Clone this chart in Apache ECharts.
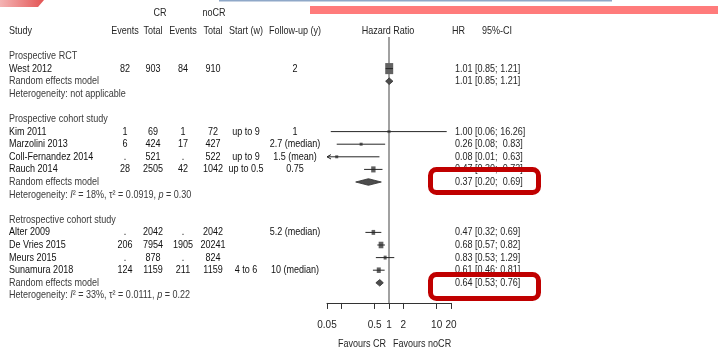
<!DOCTYPE html>
<html><head><meta charset="utf-8">
<script src="https://cdn.jsdelivr.net/npm/echarts@6/dist/echarts.min.js"></script>
<style>html,body{margin:0;padding:0;background:#fff}#c{width:718px;height:349px}</style>
</head><body><div id="c"></div>
<script>
// ---------------- DATA ----------------
const groupNames = ['Prospective RCT', 'Prospective cohort study', 'Retrospective cohort study'];
const studies = ['West 2012', 'Kim 2011', 'Marzolini 2013', 'Coll-Fernandez 2014', 'Rauch 2014',
                 'Alter 2009', 'De Vries 2015', 'Meurs 2015', 'Sunamura 2018'];
const studyGroup = [0, 1, 1, 1, 1, 2, 2, 2, 2];
const crEvents   = ['82', '1', '6', '.', '28', '.', '206', '.', '124'];
const crTotal    = ['903', '69', '424', '521', '2505', '2042', '7954', '878', '1159'];
const nocrEvents = ['84', '1', '17', '.', '42', '.', '1905', '.', '211'];
const nocrTotal  = ['910', '72', '427', '522', '1042', '2042', '20241', '824', '1159'];
const startW     = ['', 'up to 9', '', 'up to 9', 'up to 0.5', '', '', '', '4 to 6'];
const followUp   = ['2', '1', '2.7 (median)', '1.5 (mean)', '0.75', '5.2 (median)', '', '', '10 (median)'];
const hr   = [1.01, 1.00, 0.26, 0.08, 0.47, 0.47, 0.68, 0.83, 0.61];
const hrLo = [0.85, 0.06, 0.08, 0.01, 0.30, 0.32, 0.57, 0.53, 0.46];
const hrHi = [1.21, 16.26, 0.83, 0.63, 0.73, 0.69, 0.82, 1.29, 0.81];
const weight = [40, 1.3, 3, 2, 12, 8, 14, 5, 10];   // estimated relative weights
const reHr   = [1.01, 0.37, 0.64];
const reLo   = [0.85, 0.20, 0.53];
const reHi   = [1.21, 0.69, 0.76];
const hetI2   = [null, '18%', '33%'];
const hetTau2 = [null, '0.0919', '0.0111'];
const hetP    = [null, '0.30', '0.22'];
const xTicks      = [0.05, 0.1, 0.5, 1, 2, 10, 20];
const xTickLabels = [0.05, 0.5, 1, 2, 10, 20];
const xMin = 0.05, xMax = 20;

// ---------------- LAYOUT / STYLE ----------------
const W = 718, H = 349;
const ROW_H = 12.6, ROW0_Y = 56;
const K_MIN = -1.5, K_MAX = 19.6;
const FOREST_LEFT = 327, FOREST_W = 124;
const FAMILY = '"Liberation Sans", Arial, sans-serif';
const FS = 11;
const NARROW = 0.82;                       // horizontal squeeze of the original figure
const FONT = FS + 'px ' + FAMILY;
const DARK = '#111111', MID = '#262626', LIGHT = '#3a3a3a';
const COL = {study: 9, crEv: 125, crTot: 153, ncEv: 183, ncTot: 213, start: 246, fu: 295, hr: 455,
             crHead: 160, ncHead: 214, hrHead: 452, ciHead: 482, forestHead: 388};
const L = Math.log10;

// rows
const rows = [];
let r = 0;
groupNames.forEach((g, gi) => {
  rows.push({kind: 'group', row: r++, g: gi});
  studies.forEach((s, i) => { if (studyGroup[i] === gi) rows.push({kind: 'study', row: r++, i}); });
  rows.push({kind: 're', row: r++, g: gi});
  rows.push({kind: 'het', row: r++, g: gi});
  r++;
});

function groupWidth(g) {
  let m = reHi[g].toFixed(2).length;
  studies.forEach((s, i) => { if (studyGroup[i] === g) m = Math.max(m, hrHi[i].toFixed(2).length); });
  return m;
}
function ciText(h, l, u, w) {
  const us = u.toFixed(2);
  return h.toFixed(2) + ' [' + l.toFixed(2) + '; ' + ' '.repeat(w - us.length) + us + ']';
}

const items = [];
function add(x, row, text, align, color, rich) {
  items.push({x, row, text, align: align || 'left', color: color || DARK, rich});
}
const headK = -2, topK = (13 - ROW0_Y) / ROW_H, favK = (344 - ROW0_Y) / ROW_H;
add(COL.crHead, topK, 'CR', 'center', MID);
add(COL.ncHead, topK, 'noCR', 'center', MID);
add(COL.study, headK, 'Study', 'left', MID);
add(COL.crEv, headK, 'Events', 'center', MID);
add(COL.crTot, headK, 'Total', 'center', MID);
add(COL.ncEv, headK, 'Events', 'center', MID);
add(COL.ncTot, headK, 'Total', 'center', MID);
add(COL.start, headK, 'Start (w)', 'center', MID);
add(COL.fu, headK, 'Follow-up (y)', 'center', MID);
add(COL.forestHead, headK, 'Hazard Ratio', 'center', MID);
add(COL.hrHead, headK, 'HR', 'left', MID);
add(COL.ciHead, headK, '95%-CI', 'left', MID);

rows.forEach(rw => {
  if (rw.kind === 'group') add(COL.study, rw.row, groupNames[rw.g], 'left', LIGHT);
  else if (rw.kind === 'study') {
    const i = rw.i;
    add(COL.study, rw.row, studies[i], 'left', DARK);
    add(COL.crEv, rw.row, crEvents[i], 'center');
    add(COL.crTot, rw.row, crTotal[i], 'center');
    add(COL.ncEv, rw.row, nocrEvents[i], 'center');
    add(COL.ncTot, rw.row, nocrTotal[i], 'center');
    if (startW[i]) add(COL.start, rw.row, startW[i], 'center');
    if (followUp[i]) add(COL.fu, rw.row, followUp[i], 'center');
    add(COL.hr, rw.row, ciText(hr[i], hrLo[i], hrHi[i], groupWidth(studyGroup[i])), 'left', MID);
  } else if (rw.kind === 're') {
    add(COL.study, rw.row, 'Random effects model', 'left', LIGHT);
    add(COL.hr, rw.row, ciText(reHr[rw.g], reLo[rw.g], reHi[rw.g], groupWidth(rw.g)), 'left', MID);
  } else if (rw.kind === 'het') {
    const g = rw.g;
    if (hetI2[g] === null) add(COL.study, rw.row, 'Heterogeneity: not applicable', 'left', LIGHT);
    else add(COL.study, rw.row,
      'Heterogeneity: {i|I}\u00B2 = ' + hetI2[g] + ', \u03C4\u00B2 = ' + hetTau2[g] + ', {i|p} = ' + hetP[g],
      'left', LIGHT, {i: {font: 'italic ' + FONT, fill: LIGHT}});
  }
});
add(386, favK, 'Favours CR', 'right', MID);
add(393, favK, 'Favours noCR', 'left', MID);

const studyData = studies.map((s, i) => {
  const rw = rows.find(x => x.kind === 'study' && x.i === i);
  return [L(hr[i]), rw.row, L(hrLo[i]), L(hrHi[i]), weight[i]];
});
const reData = groupNames.map((g, gi) => {
  const rw = rows.find(x => x.kind === 're' && x.g === gi);
  return [L(reHr[gi]), rw.row, L(reLo[gi]), L(reHi[gi])];
});

const chart = echarts.init(document.getElementById('c'), null, {renderer: 'canvas'});
const option = {
  animation: false,
  backgroundColor: '#ffffff',
  textStyle: {fontFamily: FAMILY},
  grid: [
    {left: FOREST_LEFT, top: ROW0_Y + ROW_H * K_MIN, width: FOREST_W, height: ROW_H * (K_MAX - K_MIN),
     containLabel: false, outerBoundsMode: 'none'},
    {left: 0, top: 0, width: W, height: H, containLabel: false, outerBoundsMode: 'none'}
  ],
  xAxis: [
    {gridIndex: 0, type: 'value', min: L(xMin), max: L(xMax), position: 'bottom',
     axisLine: {show: true, onZero: false, lineStyle: {color: '#333', width: 1}},
     axisTick: {show: true, length: 6, customValues: xTicks.map(L), lineStyle: {color: '#333', width: 1}},
     axisLabel: {show: true, customValues: xTickLabels.map(L), margin: 17, color: MID,
                 fontFamily: FAMILY, fontSize: 10,
                 formatter: v => String(Number(Math.pow(10, v).toPrecision(2)))},
     splitLine: {show: false}},
    {gridIndex: 1, type: 'value', min: 0, max: W, show: false}
  ],
  yAxis: [
    {gridIndex: 0, type: 'value', min: K_MIN, max: K_MAX, inverse: true, show: false},
    {gridIndex: 1, type: 'value', min: -ROW0_Y / ROW_H, max: (H - ROW0_Y) / ROW_H, inverse: true, show: false}
  ],
  series: [
    {
      type: 'custom', name: 'studies', xAxisIndex: 0, yAxisIndex: 0, z: 4, silent: true,
      data: studyData,
      renderItem: (params, api) => {
        const x = api.value(0), k = api.value(1), l = api.value(2), u = api.value(3), w = api.value(4);
        const lc = Math.max(l, L(xMin)), uc = Math.min(u, L(xMax));
        const pL = api.coord([lc, k]), pU = api.coord([uc, k]), pC = api.coord([x, k]);
        const h = Math.max(3, 1.75 * Math.sqrt(w)), wd = Math.max(3, h * 0.72);
        const ch = [
          {type: 'rect', shape: {x: pC[0] - wd / 2, y: pC[1] - h / 2, width: wd, height: h},
           style: {fill: '#626262'}},
          {type: 'line', shape: {x1: pL[0], y1: pL[1], x2: pU[0], y2: pU[1]},
           style: {stroke: '#262626', lineWidth: 1}}
        ];
        if (l < L(xMin)) ch.push({type: 'polyline',
          shape: {points: [[pL[0] + 4, pL[1] - 2.2], [pL[0], pL[1]], [pL[0] + 4, pL[1] + 2.2]]},
          style: {stroke: '#262626', fill: null, lineWidth: 1}});
        if (u > L(xMax)) ch.push({type: 'polyline',
          shape: {points: [[pU[0] - 4, pU[1] - 2.2], [pU[0], pU[1]], [pU[0] - 4, pU[1] + 2.2]]},
          style: {stroke: '#262626', fill: null, lineWidth: 1}});
        return {type: 'group', children: ch};
      }
    },
    {
      type: 'custom', name: 'random effects', xAxisIndex: 0, yAxisIndex: 0, z: 4, silent: true,
      data: reData,
      renderItem: (params, api) => {
        const x = api.value(0), k = api.value(1), l = api.value(2), u = api.value(3);
        const pL = api.coord([l, k]), pU = api.coord([u, k]), pC = api.coord([x, k]);
        const hh = 3.3;
        return {type: 'polygon',
          shape: {points: [pL, [pC[0], pC[1] - hh], pU, [pC[0], pC[1] + hh]]},
          style: {fill: '#4d4d4d', stroke: '#2e2e2e', lineWidth: 0.8}};
      },
      markLine: {
        silent: true, symbol: 'none', z: 1, animation: false,
        label: {show: false},
        lineStyle: {color: '#8a8a8a', width: 1.6, type: 'solid'},
        data: [{xAxis: L(1)}]
      }
    },
    {
      type: 'custom', name: 'table', xAxisIndex: 1, yAxisIndex: 1, z: 3, silent: true,
      data: items.map(d => [d.x, d.row]),
      renderItem: (params, api) => {
        const d = items[params.dataIndex];
        const p = api.coord([api.value(0), api.value(1)]);
        const st = {text: d.text, fill: d.color, font: FONT,
                    textAlign: d.align, textVerticalAlign: 'middle',
                    align: d.align, verticalAlign: 'middle'};
        if (d.rich) st.rich = d.rich;
        return {type: 'text', x: p[0], y: p[1], scaleX: NARROW, scaleY: 1, style: st};
      }
    }
  ],
  graphic: [
    {type: 'polygon', z: 100, silent: true,
     shape: {points: [[0, 0], [44, 0], [38, 7], [0, 7]]},
     style: {fill: new echarts.graphic.LinearGradient(0, 0, 1, 0,
       [{offset: 0, color: '#f4b4b4'}, {offset: 1, color: '#e35454'}])}},
    {type: 'rect', z: 100, silent: true, shape: {x: 219, y: 0, width: 393, height: 1.5},
     style: {fill: '#8fa8c8'}},
    {type: 'rect', z: 100, silent: true, shape: {x: 310, y: 6, width: 408, height: 8},
     style: {fill: '#ff7b7b'}},
    {type: 'rect', z: 100, silent: true, shape: {x: 430.5, y: 169.5, width: 108, height: 23, r: 6},
     style: {fill: null, stroke: '#c00000', lineWidth: 5}},
    {type: 'rect', z: 100, silent: true, shape: {x: 430.5, y: 274.5, width: 108, height: 24, r: 6},
     style: {fill: null, stroke: '#c00000', lineWidth: 5}}
  ]
};
chart.setOption(option);
</script></body></html>
